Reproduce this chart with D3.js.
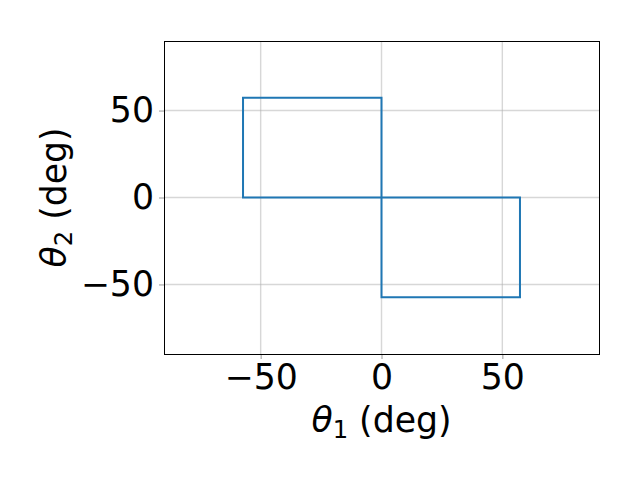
<!DOCTYPE html>
<html><head><meta charset="utf-8">
<script src="https://cdn.jsdelivr.net/npm/d3@7"></script>
<style>body{margin:0;background:#fff}text{font-family:"DejaVu Sans",sans-serif}</style>
</head><body>
<script>
const theta1 = [0, 0, -57.3, -57.3, 57.3, 57.3, 0, 0];
const theta2 = [0, 57.3, 57.3, 0, 0, -57.3, -57.3, 0];
const xTicks = [-50, 0, 50];
const yTicks = [-50, 0, 50];

const W = 640, H = 480;
const m = {l: 164, r: 599, t: 41, b: 354};
const FS = 34.7;
const svg = d3.select("body").append("svg").attr("width", W).attr("height", H);
const x = d3.scaleLinear().domain([-90, 90]).range([m.l, m.r]);
const y = d3.scaleLinear().domain([-90, 90]).range([m.b, m.t]);

// grid
svg.append("g").selectAll("line").data(xTicks).join("line")
  .attr("x1", d => x(d)).attr("x2", d => x(d)).attr("y1", m.t).attr("y2", m.b)
  .attr("stroke", "#b0b0b0").attr("stroke-opacity", 0.5).attr("stroke-width", 1.4);
svg.append("g").selectAll("line").data(yTicks).join("line")
  .attr("y1", d => y(d)).attr("y2", d => y(d)).attr("x1", m.l).attr("x2", m.r)
  .attr("stroke", "#b0b0b0").attr("stroke-opacity", 0.5).attr("stroke-width", 1.4);

// line
const pts = theta1.map((d, i) => [d, theta2[i]]);
svg.append("path").datum(pts)
  .attr("d", d3.line().x(d => x(d[0])).y(d => y(d[1])))
  .attr("fill", "none").attr("stroke", "#1f77b4").attr("stroke-width", 2);

// axes
const fmt = d => d < 0 ? "\u2212" + Math.abs(d) : String(d);
const xa = svg.append("g").attr("transform", `translate(0,${m.b})`)
  .call(d3.axisBottom(x).tickValues(xTicks).tickFormat(fmt).tickSize(5).tickPadding(5));
const ya = svg.append("g").attr("transform", `translate(${m.l},0)`)
  .call(d3.axisLeft(y).tickValues(yTicks).tickFormat(fmt).tickSize(5).tickPadding(5));
[xa, ya].forEach(a => {
  a.select(".domain").remove();
  a.selectAll(".tick line").attr("stroke", "#aaa").attr("stroke-width", 1.2);
  a.selectAll("text").attr("font-size", FS).attr("fill", "#000").style("font-family", "DejaVu Sans");
});

// frame
svg.append("rect").attr("x", m.l).attr("y", m.t).attr("width", m.r - m.l).attr("height", m.b - m.t)
  .attr("fill", "none").attr("stroke", "#000").attr("stroke-width", 1).attr("shape-rendering", "crispEdges");

// labels
const xl = svg.append("text").attr("x", x(0)).attr("y", 432).attr("text-anchor", "middle")
  .attr("font-size", FS).attr("fill", "#000");
xl.append("tspan").text("\u03b8").attr("font-style", "italic");
xl.append("tspan").text("1").attr("font-size", FS * 0.7).attr("dy", 6);
xl.append("tspan").text(" (deg)").attr("dy", -6);

const yl = svg.append("text").attr("transform", `translate(66,${y(0)}) rotate(-90)`).attr("text-anchor", "middle")
  .attr("font-size", FS).attr("fill", "#000");
yl.append("tspan").text("\u03b8").attr("font-style", "italic");
yl.append("tspan").text("2").attr("font-size", FS * 0.7).attr("dy", 6);
yl.append("tspan").text(" (deg)").attr("dy", -6);
</script>
</body></html>
